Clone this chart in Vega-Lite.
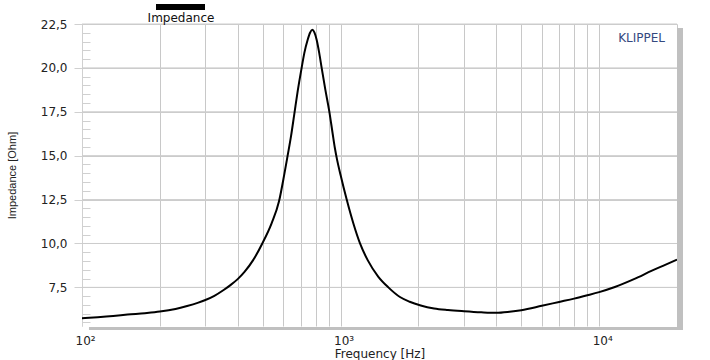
{
  "$schema": "https://vega.github.io/schema/vega-lite/v6.json",
  "width": 595,
  "height": 302,
  "autosize": {"type": "none"},
  "padding": {"left": 82, "top": 24, "right": 33, "bottom": 34},
  "background": "white",
  "config": {"view": {"stroke": null}, "font": "DejaVu Sans"},
  "resolve": {"axis": {"x": "independent", "y": "independent"}},
  "data": {"values": [
    {"f": 100, "z": 5.74}, {"f": 115, "z": 5.80}, {"f": 132, "z": 5.87}, {"f": 150, "z": 5.95},
    {"f": 175, "z": 6.03}, {"f": 200, "z": 6.12}, {"f": 230, "z": 6.27}, {"f": 255, "z": 6.44},
    {"f": 280, "z": 6.62}, {"f": 300, "z": 6.78}, {"f": 325, "z": 7.02}, {"f": 353, "z": 7.35},
    {"f": 375, "z": 7.63}, {"f": 400, "z": 7.97}, {"f": 425, "z": 8.38}, {"f": 459, "z": 9.05},
    {"f": 498, "z": 10.0}, {"f": 541, "z": 11.15}, {"f": 578, "z": 12.4}, {"f": 606, "z": 13.95},
    {"f": 624, "z": 15.0}, {"f": 643, "z": 16.1}, {"f": 662, "z": 17.35}, {"f": 683, "z": 18.7},
    {"f": 707, "z": 20.0}, {"f": 724, "z": 20.84}, {"f": 746, "z": 21.6}, {"f": 762, "z": 22.0},
    {"f": 777, "z": 22.17}, {"f": 792, "z": 22.02}, {"f": 808, "z": 21.6}, {"f": 827, "z": 20.84},
    {"f": 845, "z": 20.0}, {"f": 873, "z": 18.76}, {"f": 905, "z": 17.5}, {"f": 932, "z": 16.25},
    {"f": 950, "z": 15.45}, {"f": 970, "z": 14.75}, {"f": 1000, "z": 13.9}, {"f": 1056, "z": 12.5},
    {"f": 1120, "z": 11.15}, {"f": 1189, "z": 10.0}, {"f": 1273, "z": 9.05}, {"f": 1400, "z": 8.1},
    {"f": 1530, "z": 7.5}, {"f": 1697, "z": 6.95}, {"f": 1850, "z": 6.68}, {"f": 2042, "z": 6.47},
    {"f": 2300, "z": 6.3}, {"f": 2600, "z": 6.21}, {"f": 3000, "z": 6.14}, {"f": 3500, "z": 6.08},
    {"f": 4000, "z": 6.05}, {"f": 4500, "z": 6.11}, {"f": 5000, "z": 6.2}, {"f": 6000, "z": 6.45},
    {"f": 7000, "z": 6.67}, {"f": 8000, "z": 6.86}, {"f": 9000, "z": 7.05}, {"f": 10000, "z": 7.23},
    {"f": 11500, "z": 7.52}, {"f": 13700, "z": 7.98}, {"f": 16000, "z": 8.45}, {"f": 18000, "z": 8.78},
    {"f": 20000, "z": 9.08}
  ]},
  "layer": [
    {
      "data": {"values": [{"level": 7.5}, {"level": 10}, {"level": 12.5}, {"level": 15}, {"level": 17.5}, {"level": 20}, {"level": 22.5}]},
      "mark": {"type": "rule", "color": "#cccccc", "strokeWidth": 1},
      "encoding": {
        "y": {"field": "level", "type": "quantitative", "axis": null}
      }
    },
    {
      "mark": {"type": "line", "interpolate": "monotone", "strokeWidth": 2},
      "encoding": {
        "x": {
          "field": "f", "type": "quantitative",
          "scale": {"type": "log", "domain": [100, 20000], "nice": false},
          "axis": {
            "orient": "bottom",
            "values": [100, 200, 300, 400, 500, 600, 700, 800, 900, 1000, 2000, 3000, 4000, 5000, 6000, 7000, 8000, 9000, 10000, 20000],
            "labelExpr": "datum.value == 100 ? '10²' : datum.value == 1000 ? '10³' : datum.value == 10000 ? '10⁴' : ''",
            "ticks": false, "domain": false,
            "grid": true, "gridColor": "#c8c8c8", "gridWidth": 1,
            "labelFont": "DejaVu Sans", "labelFontSize": 12, "labelColor": "#222222",
            "labelPadding": 9, "labelFlush": false, "labelOverlap": false,
            "labelAlign": "left", "labelOffset": -7,
            "title": "Frequency  [Hz]", "titleFont": "DejaVu Sans", "titleFontSize": 12, "titleFontWeight": "normal", "titleColor": "#222222",
            "titleY": 31, "titleBaseline": "alphabetic"
          }
        },
        "y": {
          "field": "z", "type": "quantitative",
          "scale": {"domain": [5.3, 22.5], "nice": false, "zero": false},
          "axis": {
            "orient": "left",
            "values": [7.5, 10, 12.5, 15, 17.5, 20, 22.5],
            "labelExpr": "replace(format(datum.value, '.1f'), '.', ',')",
            "labelOverlap": false,
            "grid": true, "gridColor": "#cccccc", "gridWidth": 1,
            "domain": true, "domainColor": "#d0d0d0",
            "ticks": true, "tickColor": "#d0d0d0", "tickSize": 8,
            "labelPadding": 7,
            "labelFont": "DejaVu Sans", "labelFontSize": 12, "labelColor": "#222222",
            "title": "Impedance [Ohm]", "titleX": -70, "titleY": 151, "titleAngle": 270,
            "titleBaseline": "middle", "titleAlign": "center",
            "titleFont": "Liberation Sans", "titleFontSize": 11, "titleFontWeight": "normal", "titleColor": "#222222"
          }
        },
        "color": {
          "datum": "Impedance", "type": "nominal",
          "scale": {"range": ["black"]},
          "legend": {
            "orient": "none", "legendX": 66, "legendY": -21,
            "symbolType": "stroke", "symbolSize": 2401, "symbolStrokeWidth": 6, "symbolStrokeColor": "black",
            "clipHeight": 8,
            "labelExpr": "''", "labelOffset": 0,
            "title": "Impedance", "titleOrient": "bottom", "titleAnchor": "middle",
            "titleFont": "DejaVu Sans", "titleFontSize": 12, "titleFontWeight": "normal", "titleColor": "#111111",
            "titlePadding": 1, "padding": 0
          }
        }
      }
    },
    {
      "data": {"values": [{}]},
      "mark": {"type": "rect", "color": "#c0c0c0"},
      "encoding": {
        "x": {"datum": 20000, "type": "quantitative", "axis": null},
        "x2": {"datum": 21098},
        "y": {"datum": 22.27, "type": "quantitative", "axis": null},
        "y2": {"datum": 5.072}
      }
    },
    {
      "data": {"values": [{}]},
      "mark": {"type": "rect", "color": "#c0c0c0"},
      "encoding": {
        "x": {"datum": 106.4, "type": "quantitative", "axis": null},
        "x2": {"datum": 21098},
        "y": {"datum": 5.243, "type": "quantitative", "axis": null},
        "y2": {"datum": 5.072}
      }
    },
    {
      "data": {"values": [{}]},
      "mark": {"type": "text", "align": "right", "baseline": "alphabetic", "font": "DejaVu Sans", "fontSize": 12, "color": "#34497f"},
      "encoding": {
        "x": {"datum": 17970, "type": "quantitative", "axis": null},
        "y": {
          "datum": 21.5, "type": "quantitative",
          "axis": {
            "orient": "left",
            "values": [5.5, 6, 6.5, 7, 8, 8.5, 9, 9.5, 10.5, 11, 11.5, 12, 13, 13.5, 14, 14.5, 15.5, 16, 16.5, 17, 18, 18.5, 19, 19.5, 20.5, 21, 21.5, 22],
            "labels": false, "grid": false, "domain": false, "title": null,
            "ticks": true, "tickColor": "#d0d0d0", "tickSize": -8
          }
        },
        "text": {"value": "KLIPPEL"}
      }
    }
  ]
}
